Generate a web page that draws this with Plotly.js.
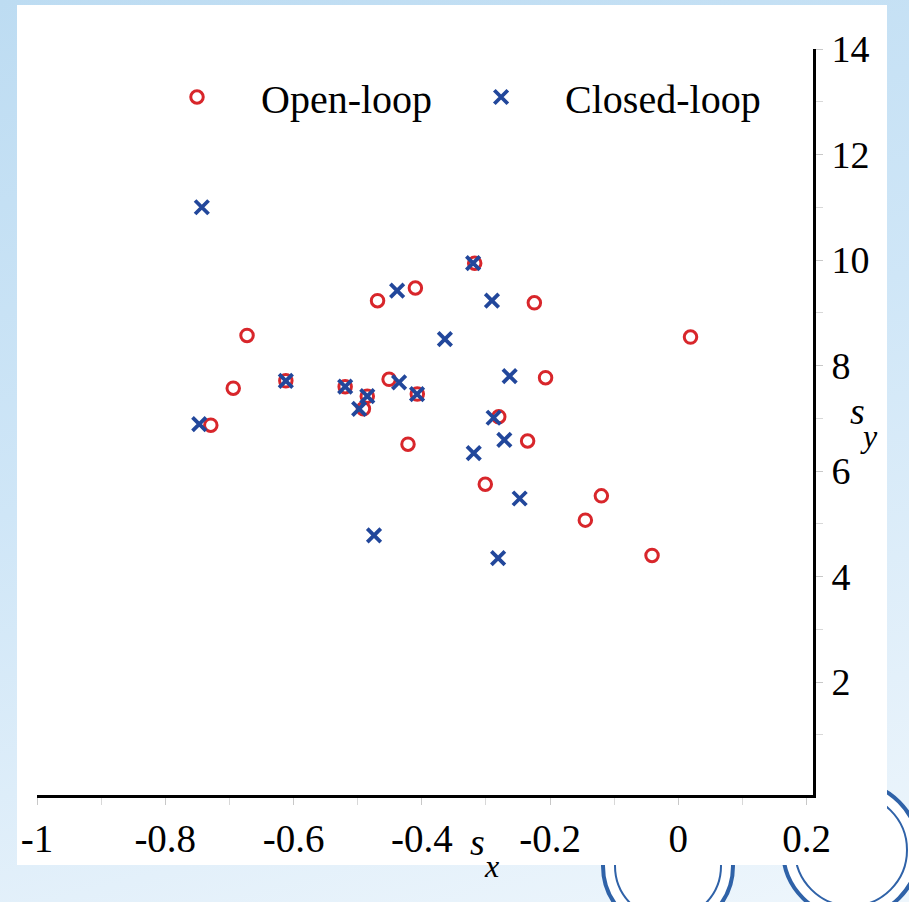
<!DOCTYPE html>
<html>
<head>
<meta charset="utf-8">
<script src="https://cdn.plot.ly/plotly-3.0.1.min.js"></script>
<style>
  html, body { margin: 0; padding: 0; overflow: hidden; }
  body {
    width: 909px; height: 902px;
    background: linear-gradient(165deg, #bddcf2 0%, #cfe6f7 45%, #e3f0fa 80%, #eef6fc 100%);
  }
  #chart { width: 909px; height: 902px; }
</style>
</head>
<body>
<div id="chart"></div>
<script>
// ---- data ----
const openX = [-0.410, -0.469, -0.6725, -0.694, -0.612, -0.5195, -0.485, -0.491, -0.451, -0.407, -0.729, -0.4215, -0.3175, -0.2245, 0.019, -0.207, -0.280, -0.235, -0.301, -0.120, -0.145, -0.041];
const openY = [9.47, 9.23, 8.57, 7.57, 7.71, 7.60, 7.42, 7.18, 7.74, 7.46, 6.87, 6.51, 9.94, 9.19, 8.54, 7.77, 7.03, 6.57, 5.75, 5.53, 5.07, 4.40];

const closedX = [-0.743, -0.4385, -0.364, -0.612, -0.5195, -0.485, -0.4977, -0.4354, -0.4074, -0.747, -0.320, -0.2906, -0.263, -0.288, -0.2713, -0.319, -0.2474, -0.281, -0.4745];
const closedY = [11.00, 9.42, 8.50, 7.71, 7.60, 7.42, 7.18, 7.68, 7.46, 6.89, 9.94, 9.23, 7.80, 7.01, 6.59, 6.34, 5.48, 4.35, 4.78];

const seriesNames = ["Open-loop", "Closed-loop"];

const xTickVals = [-1, -0.8, -0.6, -0.4, -0.2, 0, 0.2];
const xTickText = ["-1", "-0.8", "-0.6", "-0.4", "-0.2", "0", "0.2"];
const xMinorVals = [-0.9, -0.7, -0.5, -0.3, -0.1, 0.1];
const yTickVals = [2, 4, 6, 8, 10, 12, 14];
const yTickText = ["2", "4", "6", "8", "10", "12", "14"];
const yMinorVals = [1, 3, 5, 7, 9, 11, 13];

// ---- layout helpers ----
const W = 909, H = 902;
const M = {l: 37, r: 96, t: 49, b: 107};
const PW = W - M.l - M.r, PH = H - M.t - M.b;
const px = v => (v - M.l) / PW;      // pixel x -> paper fraction
const py = v => (H - M.b - v) / PH;  // pixel y -> paper fraction

const FONT = "Liberation Serif, Times New Roman, serif";
const RED = "#d8262b", BLUE = "#22479b";

const traces = [
  {
    x: openX, y: openY, type: "scatter", mode: "markers", name: seriesNames[0],
    marker: {symbol: "circle-open", size: 12.5, color: RED, line: {color: RED, width: 3}},
    cliponaxis: false
  },
  {
    x: closedX, y: closedY, type: "scatter", mode: "markers", name: seriesNames[1],
    marker: {symbol: "x-thin-open", size: 13.5, color: BLUE, line: {color: BLUE, width: 3.8}},
    cliponaxis: false
  }
];

const logoLine = "#2f62a8";
const shapes = [
  // partial logos (mostly hidden behind the white panel)
  {type: "circle", xref: "paper", yref: "paper", layer: "below",
   x0: px(668 - 65), x1: px(668 + 65), y0: py(866 + 65), y1: py(866 - 65),
   line: {color: logoLine, width: 4}, fillcolor: "#ffffff"},
  {type: "circle", xref: "paper", yref: "paper", layer: "below",
   x0: px(668 - 53), x1: px(668 + 53), y0: py(866 + 53), y1: py(866 - 53),
   line: {color: logoLine, width: 2}, fillcolor: "rgba(0,0,0,0)"},
  {type: "circle", xref: "paper", yref: "paper", layer: "below",
   x0: px(851 - 68), x1: px(851 + 68), y0: py(850 + 68), y1: py(850 - 68),
   line: {color: logoLine, width: 4}, fillcolor: "#ffffff"},
  {type: "circle", xref: "paper", yref: "paper", layer: "below",
   x0: px(851 - 56), x1: px(851 + 56), y0: py(850 + 56), y1: py(850 - 56),
   line: {color: logoLine, width: 2}, fillcolor: "rgba(0,0,0,0)"},
  // white panel
  {type: "rect", xref: "paper", yref: "paper", layer: "below",
   x0: px(17), x1: px(887), y0: py(865), y1: py(5),
   line: {width: 0}, fillcolor: "#ffffff"}
];

const annotations = [
  {xref: "paper", yref: "paper", x: px(477), y: py(842), text: "<i>s</i>", showarrow: false,
   font: {family: FONT, size: 38, color: "#000"}, xanchor: "center", yanchor: "middle"},
  {xref: "paper", yref: "paper", x: px(491), y: py(866), text: "<i>x</i>", showarrow: false,
   font: {family: FONT, size: 32, color: "#000"}, xanchor: "center", yanchor: "middle"},
  {xref: "paper", yref: "paper", x: px(857), y: py(411), text: "<i>s</i>", showarrow: false,
   font: {family: FONT, size: 38, color: "#000"}, xanchor: "center", yanchor: "middle"},
  {xref: "paper", yref: "paper", x: px(869), y: py(436), text: "<i>y</i>", showarrow: false,
   font: {family: FONT, size: 32, color: "#000"}, xanchor: "center", yanchor: "middle"}
];

const layout = {
  width: W, height: H,
  margin: M,
  paper_bgcolor: "rgba(0,0,0,0)",
  plot_bgcolor: "#ffffff",
  font: {family: FONT, color: "#000"},
  showlegend: true,
  legend: {
    orientation: "h", x: px(133), y: py(97), xanchor: "left", yanchor: "middle",
    bgcolor: "rgba(0,0,0,0)", borderwidth: 0,
    font: {family: FONT, size: 40, color: "#000"},
    itemwidth: 118,
    itemclick: false, itemdoubleclick: false
  },
  xaxis: {
    range: [-1, 0.21], showgrid: false, zeroline: false,
    showline: true, linecolor: "#000", linewidth: 3, mirror: false,
    tickmode: "array", tickvals: xTickVals, ticktext: xTickText,
    ticks: "outside", ticklen: 7, tickwidth: 1, tickcolor: "#c8c8c8",
    minor: {tickmode: "array", tickvals: xMinorVals, ticks: "outside", ticklen: 7, tickwidth: 1, tickcolor: "#d8d8d8", showgrid: false},
    tickfont: {family: FONT, size: 39, color: "#000"},
    ticklabelstandoff: 0,
    fixedrange: true
  },
  yaxis: {
    range: [-0.14, 14], side: "right", showgrid: false, zeroline: false,
    showline: true, linecolor: "#000", linewidth: 3,
    tickmode: "array", tickvals: yTickVals, ticktext: yTickText,
    ticks: "outside", ticklen: 7, tickwidth: 1, tickcolor: "#c8c8c8",
    minor: {tickmode: "array", tickvals: yMinorVals, ticks: "outside", ticklen: 7, tickwidth: 1, tickcolor: "#d8d8d8", showgrid: false},
    tickfont: {family: FONT, size: 38, color: "#000"},
    ticklabelstandoff: 1,
    fixedrange: true
  },
  shapes: shapes,
  annotations: annotations
};

Plotly.newPlot("chart", traces, layout, {staticPlot: true, displayModeBar: false});
</script>
</body>
</html>
